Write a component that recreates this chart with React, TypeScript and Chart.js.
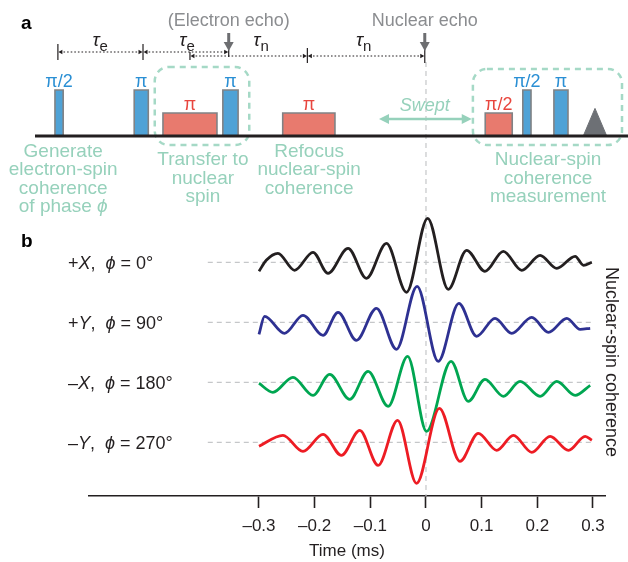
import React, { useEffect, useRef } from 'react';
import { Chart, registerables } from 'chart.js';

Chart.register(...registerables);

const FONT = '"Liberation Sans", Arial, Helvetica, sans-serif';

// ---------------- Panel b: echo traces (time in ms, coherence in a.u.) ----------------
const xTicks = [-0.3, -0.2, -0.1, 0, 0.1, 0.2, 0.3];
const xTickLabels = ['\u20130.3', '\u20130.2', '\u20130.1', '0', '0.1', '0.2', '0.3'];

const blackTimes = [-0.300, -0.287, -0.266, -0.236, -0.203, -0.176, -0.140, -0.107, -0.071, -0.035, 0.003, 0.040, 0.073, 0.106, 0.139, 0.172, 0.205, 0.235, 0.268, 0.283, 0.298];
const blackValues = [-9, 2, 9, -8, 10, -11, 14, -16, 19, -30, 44, -27, 12, -9, 11, -8, 7, -6, 6, -3, 0];

const blueTimes = [-0.300, -0.290, -0.254, -0.221, -0.185, -0.158, -0.125, -0.089, -0.053, -0.016, 0.022, 0.059, 0.091, 0.124, 0.154, 0.190, 0.220, 0.253, 0.277, 0.295];
const blueValues = [-12, 6, -11, 7, -13, 10, -18, 14, -27, 36, -39, 19, -14, 4, -11, 5, -10, 4, -7, -6];

const greenTimes = [-0.300, -0.275, -0.239, -0.203, -0.173, -0.137, -0.104, -0.068, -0.033, 0.001, 0.045, 0.076, 0.106, 0.139, 0.169, 0.205, 0.235, 0.268, 0.295];
const greenValues = [-1, -10, 5, -13, 8, -17, 11, -24, 26, -49, 21, -19, 3, -14, 1, -14, 1, -13, -3];

const redTimes = [-0.300, -0.257, -0.221, -0.185, -0.152, -0.119, -0.086, -0.051, -0.017, 0.024, 0.061, 0.094, 0.127, 0.157, 0.190, 0.223, 0.256, 0.286, 0.298];
const redValues = [-4, 7, -9, 8, -13, 12, -23, 22, -41, 34, -19, 9, -8, 7, -10, 6, -8, 6, 2];

const traceSigns = ['+', '+', '\u2013', '\u2013'];
const traceAxes = ['X', 'Y', 'X', 'Y'];
const tracePhases = [0, 90, 180, 270];
const traceOffsets = [180, 120, 60, 0];

// ---------------- Panel a: pulse sequence (schematic time units) ----------------
const pulseStarts = [3.4, 16.9, 21.8, 32.0, 42.2, 76.7, 83.1, 88.4];
const pulseEnds = [4.8, 19.3, 31.0, 34.6, 51.1, 81.3, 84.5, 90.8];
const pulseKinds = ['e', 'e', 'n', 'e', 'n', 'n', 'e', 'e'];
const pulseAngles = ['\u03c0/2', '\u03c0', '\u03c0', '\u03c0', '\u03c0', '\u03c0/2', '\u03c0/2', '\u03c0'];
const pulseAmplitudes = [1, 1, 0.5, 1, 0.5, 0.5, 1, 1];
const readoutStart = 93.4;
const readoutEnd = 97.4;
const readoutAmplitude = 0.6;
const sequenceEnd = 101.1;
const electronMarks = [3.9, 18.4, 33.0];
const nuclearMarks = [26.4, 46.4, 66.4];
const tauTimes = [11.1, 25.9, 38.5, 56.0];
const tauSubs = ['e', 'e', 'n', 'n'];
const sweptRange = [58.6, 74.4];

// styles
const INK = '#231f20';
const MINT = '#96d1bb';
const MINT_BOX = '#a5d9c6';
const GRAY_TEXT = '#8b8d90';
const GRAY_ARROW = '#6d6e71';
const PULSE_EDGE = '#808285';
const E_FILL = '#4fa2d6';
const N_FILL = '#e87a6e';
const E_TEXT = '#2a8fd4';
const N_TEXT = '#e8463e';
const traceColors = ['#231f20', '#2e3192', '#00a651', '#ed1c24'];
const REF_DASH = '#c5c7c9';

type Seg = { t: string; it?: boolean; sub?: boolean; bold?: boolean };

function drawRich(ctx: CanvasRenderingContext2D, segs: Seg[], x: number, y: number, align: 'left' | 'center', size: number, color: string) {
  const fontOf = (s: Seg) => `${s.it ? 'italic ' : ''}${s.bold ? 'bold ' : ''}${s.sub ? Math.round(size * 0.78) : size}px ${FONT}`;
  let total = 0;
  const widths = segs.map((s) => {
    ctx.font = fontOf(s);
    const w = ctx.measureText(s.t).width;
    total += w;
    return w;
  });
  let cx = align === 'center' ? x - total / 2 : x;
  ctx.fillStyle = color;
  ctx.textBaseline = 'middle';
  ctx.textAlign = 'left';
  segs.forEach((s, i) => {
    ctx.font = fontOf(s);
    ctx.fillText(s.t, cx, y + (s.sub ? size * 0.32 : 0));
    cx += widths[i];
  });
}

function arrowHead(ctx: CanvasRenderingContext2D, x: number, y: number, dir: number, len: number, half: number) {
  ctx.beginPath();
  ctx.moveTo(x, y);
  ctx.lineTo(x - dir * len, y - half);
  ctx.lineTo(x - dir * len, y + half);
  ctx.closePath();
  ctx.fill();
}

const diagramPlugin = {
  id: 'diagram',
  beforeDatasetsDraw(chart: any) {
    const { ctx } = chart;
    const X = (u: number) => chart.scales.x.getPixelForValue(u);
    const Y = (v: number) => chart.scales.y.getPixelForValue(v);
    ctx.save();
    ctx.strokeStyle = MINT_BOX;
    ctx.lineWidth = 2.5;
    ctx.setLineDash([6, 5]);
    const boxes = [
      [20.4, 36.5, 1.5, -0.196],
      [74.6, 100, 1.457, -0.196],
    ];
    boxes.forEach(([u0, u1, v0, v1]) => {
      ctx.beginPath();
      ctx.roundRect(X(u0), Y(v0), X(u1) - X(u0), Y(v1) - Y(v0), 14);
      ctx.stroke();
    });
    ctx.restore();
  },
  afterDatasetsDraw(chart: any) {
    const { ctx } = chart;
    const X = (u: number) => chart.scales.x.getPixelForValue(u);
    const Y = (v: number) => chart.scales.y.getPixelForValue(v);
    ctx.save();

    // pulse labels
    pulseStarts.forEach((s, i) => {
      const cx = (X(s) + X(pulseEnds[i])) / 2;
      const cy = Y(pulseAmplitudes[i]) - 8;
      ctx.font = `18px ${FONT}`;
      ctx.fillStyle = pulseKinds[i] === 'e' ? E_TEXT : N_TEXT;
      ctx.textAlign = 'center';
      ctx.textBaseline = 'middle';
      ctx.fillText(pulseAngles[i], cx, cy);
    });

    // echo labels + arrows
    const echoes: [number, string, number][] = [
      [electronMarks[2], '(Electron echo)', 57],
      [nuclearMarks[2], 'Nuclear echo', 63],
    ];
    const topY = Y(2.5);
    echoes.forEach(([u, label, lineEnd]) => {
      const x = X(u);
      ctx.font = `18px ${FONT}`;
      ctx.fillStyle = GRAY_TEXT;
      ctx.textAlign = 'center';
      ctx.textBaseline = 'middle';
      ctx.fillText(label, x, topY);
      ctx.strokeStyle = INK;
      ctx.lineWidth = 1.2;
      ctx.setLineDash([]);
      ctx.beginPath();
      ctx.moveTo(x, topY + 28);
      ctx.lineTo(x, lineEnd);
      ctx.stroke();
      ctx.strokeStyle = GRAY_ARROW;
      ctx.fillStyle = GRAY_ARROW;
      ctx.lineWidth = 3;
      ctx.beginPath();
      ctx.moveTo(x, topY + 12);
      ctx.lineTo(x, topY + 22);
      ctx.stroke();
      ctx.beginPath();
      ctx.moveTo(x - 5, topY + 21);
      ctx.lineTo(x + 5, topY + 21);
      ctx.lineTo(x, topY + 30);
      ctx.closePath();
      ctx.fill();
    });

    // dotted timelines
    const rows: [number[], number][] = [
      [electronMarks, Y(1.826)],
      [nuclearMarks, Y(1.739)],
    ];
    rows.forEach(([marks, y]) => {
      for (let i = 0; i < marks.length - 1; i++) {
        const x0 = X(marks[i]);
        const x1 = X(marks[i + 1]);
        ctx.strokeStyle = INK;
        ctx.fillStyle = INK;
        ctx.lineWidth = 1.2;
        ctx.setLineDash([1.6, 2]);
        ctx.beginPath();
        ctx.moveTo(x0 + 2, y);
        ctx.lineTo(x1 - 2, y);
        ctx.stroke();
        ctx.setLineDash([]);
        arrowHead(ctx, x0 + 0.5, y, -1, 4, 2.2);
        arrowHead(ctx, x1 - 0.5, y, 1, 4, 2.2);
      }
    });
    ctx.strokeStyle = INK;
    ctx.lineWidth = 1.2;
    ctx.setLineDash([]);
    const tickSpecs: [number, number, number][] = [
      [electronMarks[0], 44, 60],
      [electronMarks[1], 44, 60],
      [nuclearMarks[0], 52, 60],
      [nuclearMarks[1], 48, 63],
    ];
    tickSpecs.forEach(([u, a, b]) => {
      ctx.beginPath();
      ctx.moveTo(X(u), a);
      ctx.lineTo(X(u), b);
      ctx.stroke();
    });

    // tau labels
    tauTimes.forEach((u, i) => {
      drawRich(ctx, [{ t: '\u03c4', it: true }, { t: tauSubs[i], sub: true }], X(u), Y(2.02) - 2, 'center', 19, INK);
    });

    // swept arrow
    const sy = Y(0.37);
    ctx.strokeStyle = MINT;
    ctx.fillStyle = MINT;
    ctx.lineWidth = 2.5;
    ctx.beginPath();
    ctx.moveTo(X(sweptRange[0]) + 6, sy);
    ctx.lineTo(X(sweptRange[1]) - 6, sy);
    ctx.stroke();
    arrowHead(ctx, X(sweptRange[0]), sy, -1, 10, 5);
    arrowHead(ctx, X(sweptRange[1]), sy, 1, 10, 5);
    ctx.font = `italic 18px ${FONT}`;
    ctx.textAlign = 'center';
    ctx.textBaseline = 'middle';
    ctx.fillText('Swept', X(nuclearMarks[2]), Y(0.652));

    // stage descriptions
    const blocks: [number, number, Seg[][]][] = [
      [4.8, -0.341, [[{ t: 'Generate' }], [{ t: 'electron-spin' }], [{ t: 'coherence' }], [{ t: 'of phase ' }, { t: '\u03d5', it: true }]]],
      [28.6, -0.522, [[{ t: 'Transfer to' }], [{ t: 'nuclear' }], [{ t: 'spin' }]]],
      [46.7, -0.341, [[{ t: 'Refocus' }], [{ t: 'nuclear-spin' }], [{ t: 'coherence' }]]],
      [87.4, -0.522, [[{ t: 'Nuclear-spin' }], [{ t: 'coherence' }], [{ t: 'measurement' }]]],
    ];
    blocks.forEach(([u, v, lines]) => {
      lines.forEach((segs, i) => drawRich(ctx, segs, X(u), Y(v) + i * 18.4, 'center', 19, MINT));
    });

    // panel letter
    drawRich(ctx, [{ t: 'a', bold: true }], 21, 24, 'left', 19, '#000');
    ctx.restore();
  },
};

const tracesPlugin = {
  id: 'traces',
  beforeDatasetsDraw(chart: any) {
    const { ctx, chartArea } = chart;
    const x0 = chart.scales.x.getPixelForValue(0);
    ctx.save();
    ctx.strokeStyle = REF_DASH;
    ctx.lineWidth = 1.2;
    ctx.setLineDash([5, 4]);
    ctx.beginPath();
    ctx.moveTo(x0, 62);
    ctx.lineTo(x0, chartArea.bottom);
    ctx.stroke();
    ctx.restore();
  },
  afterDraw(chart: any) {
    const { ctx } = chart;
    const Y = (v: number) => chart.scales.y.getPixelForValue(v);
    ctx.save();
    traceOffsets.forEach((off, i) => {
      drawRich(
        ctx,
        [{ t: traceSigns[i] }, { t: traceAxes[i], it: true }, { t: ',  ' }, { t: '\u03d5', it: true }, { t: ` = ${tracePhases[i]}\u00b0` }],
        68,
        Y(off) + 2,
        'left',
        18,
        INK
      );
    });
    drawRich(ctx, [{ t: 'b', bold: true }], 21, 242, 'left', 19, '#000');
    ctx.translate(611, 362);
    ctx.rotate(Math.PI / 2);
    ctx.font = `18px ${FONT}`;
    ctx.fillStyle = INK;
    ctx.textAlign = 'center';
    ctx.textBaseline = 'middle';
    ctx.fillText('Nuclear-spin coherence', 0, 0);
    ctx.restore();
  },
};

export default function App() {
  const refA = useRef<HTMLCanvasElement>(null);
  const refB = useRef<HTMLCanvasElement>(null);

  useEffect(() => {
    // ----- Panel a -----
    const pulseSets = pulseStarts.map((s, i) => ({
      data: [
        { x: s, y: 0 },
        { x: s, y: pulseAmplitudes[i] },
        { x: pulseEnds[i], y: pulseAmplitudes[i] },
        { x: pulseEnds[i], y: 0 },
      ],
      borderColor: PULSE_EDGE,
      borderWidth: 1.6,
      backgroundColor: pulseKinds[i] === 'e' ? E_FILL : N_FILL,
      fill: 'origin',
      pointRadius: 0,
      tension: 0,
      clip: false as any,
    }));
    const chartA = new Chart(refA.current!, {
      type: 'line',
      data: {
        datasets: [
          {
            data: [
              { x: 0, y: 0 },
              { x: sequenceEnd, y: 0 },
            ],
            borderColor: INK,
            borderWidth: 3.2,
            pointRadius: 0,
            fill: false,
            clip: false as any,
          },
          {
            data: [
              { x: readoutStart, y: 0 },
              { x: (readoutStart + readoutEnd) / 2, y: readoutAmplitude },
              { x: readoutEnd, y: 0 },
            ],
            borderColor: '#6d7075',
            borderWidth: 1,
            backgroundColor: '#6d7075',
            fill: 'origin',
            pointRadius: 0,
            tension: 0,
            clip: false as any,
          },
          ...pulseSets,
        ] as any,
      },
      options: {
        responsive: false,
        devicePixelRatio: 1,
        animation: false,
        events: [],
        layout: { padding: { left: 35, right: 6, top: 21, bottom: 426 } },
        plugins: { legend: { display: false }, tooltip: { enabled: false } },
        scales: {
          x: { type: 'linear', min: 0, max: 100, display: false },
          y: { type: 'linear', min: 0, max: 2.5, display: false },
        },
      },
      plugins: [diagramPlugin],
    });

    // ----- Panel b -----
    const series = [
      [redTimes, redValues, 3],
      [greenTimes, greenValues, 2],
      [blueTimes, blueValues, 1],
      [blackTimes, blackValues, 0],
    ] as [number[], number[], number][];
    const traceSets = series.map(([ts, vs, idx]) => ({
      data: ts.map((t, k) => ({ x: t, y: vs[k] + traceOffsets[idx] })),
      borderColor: traceColors[idx],
      borderWidth: 2.8,
      pointRadius: 0,
      cubicInterpolationMode: 'monotone',
      fill: false,
      clip: false as any,
    }));
    const refSets = traceOffsets.map((off) => ({
      data: [
        { x: -0.392, y: off },
        { x: 0.3, y: off },
      ],
      borderColor: REF_DASH,
      borderWidth: 1.2,
      borderDash: [5, 4],
      pointRadius: 0,
      fill: false,
      clip: false as any,
    }));
    const chartB = new Chart(refB.current!, {
      type: 'line',
      data: { datasets: [...traceSets, ...refSets] as any },
      options: {
        responsive: false,
        devicePixelRatio: 1,
        animation: false,
        events: [],
        layout: { padding: { left: 89, right: 23, top: 200, bottom: 0 } },
        plugins: { legend: { display: false }, tooltip: { enabled: false } },
        scales: {
          x: {
            type: 'linear',
            min: -0.6054,
            max: 0.3216,
            afterBuildTicks: (s: any) => {
              s.ticks = xTicks.map((v) => ({ value: v }));
            },
            afterFit: (s: any) => {
              s.height = 66;
            },
            ticks: {
              autoSkip: false,
              maxRotation: 0,
              padding: 8,
              color: INK,
              font: { family: FONT, size: 17 },
              callback: (value: any) => {
                const i = xTicks.findIndex((t) => Math.abs(t - Number(value)) < 1e-9);
                return i >= 0 ? xTickLabels[i] : '';
              },
            },
            grid: {
              display: true,
              drawOnChartArea: false,
              drawTicks: true,
              tickLength: 12,
              tickWidth: 1.6,
              tickColor: INK,
            },
            border: { display: true, color: INK, width: 1.6 },
            title: {
              display: true,
              text: 'Time (ms)',
              color: INK,
              font: { family: FONT, size: 17 },
              padding: { top: 0, bottom: 0 },
            },
          },
          y: { type: 'linear', min: -53.7, max: 242.3, display: false },
        },
      },
      plugins: [tracesPlugin],
    });

    return () => {
      chartA.destroy();
      chartB.destroy();
    };
  }, []);

  return (
    <div style={{ position: 'absolute', left: 0, top: 0, width: 628, height: 562, background: '#fff' }}>
      <canvas ref={refB} width={628} height={562} style={{ position: 'absolute', left: 0, top: 0 }} />
      <canvas ref={refA} width={628} height={562} style={{ position: 'absolute', left: 0, top: 0 }} />
    </div>
  );
}
